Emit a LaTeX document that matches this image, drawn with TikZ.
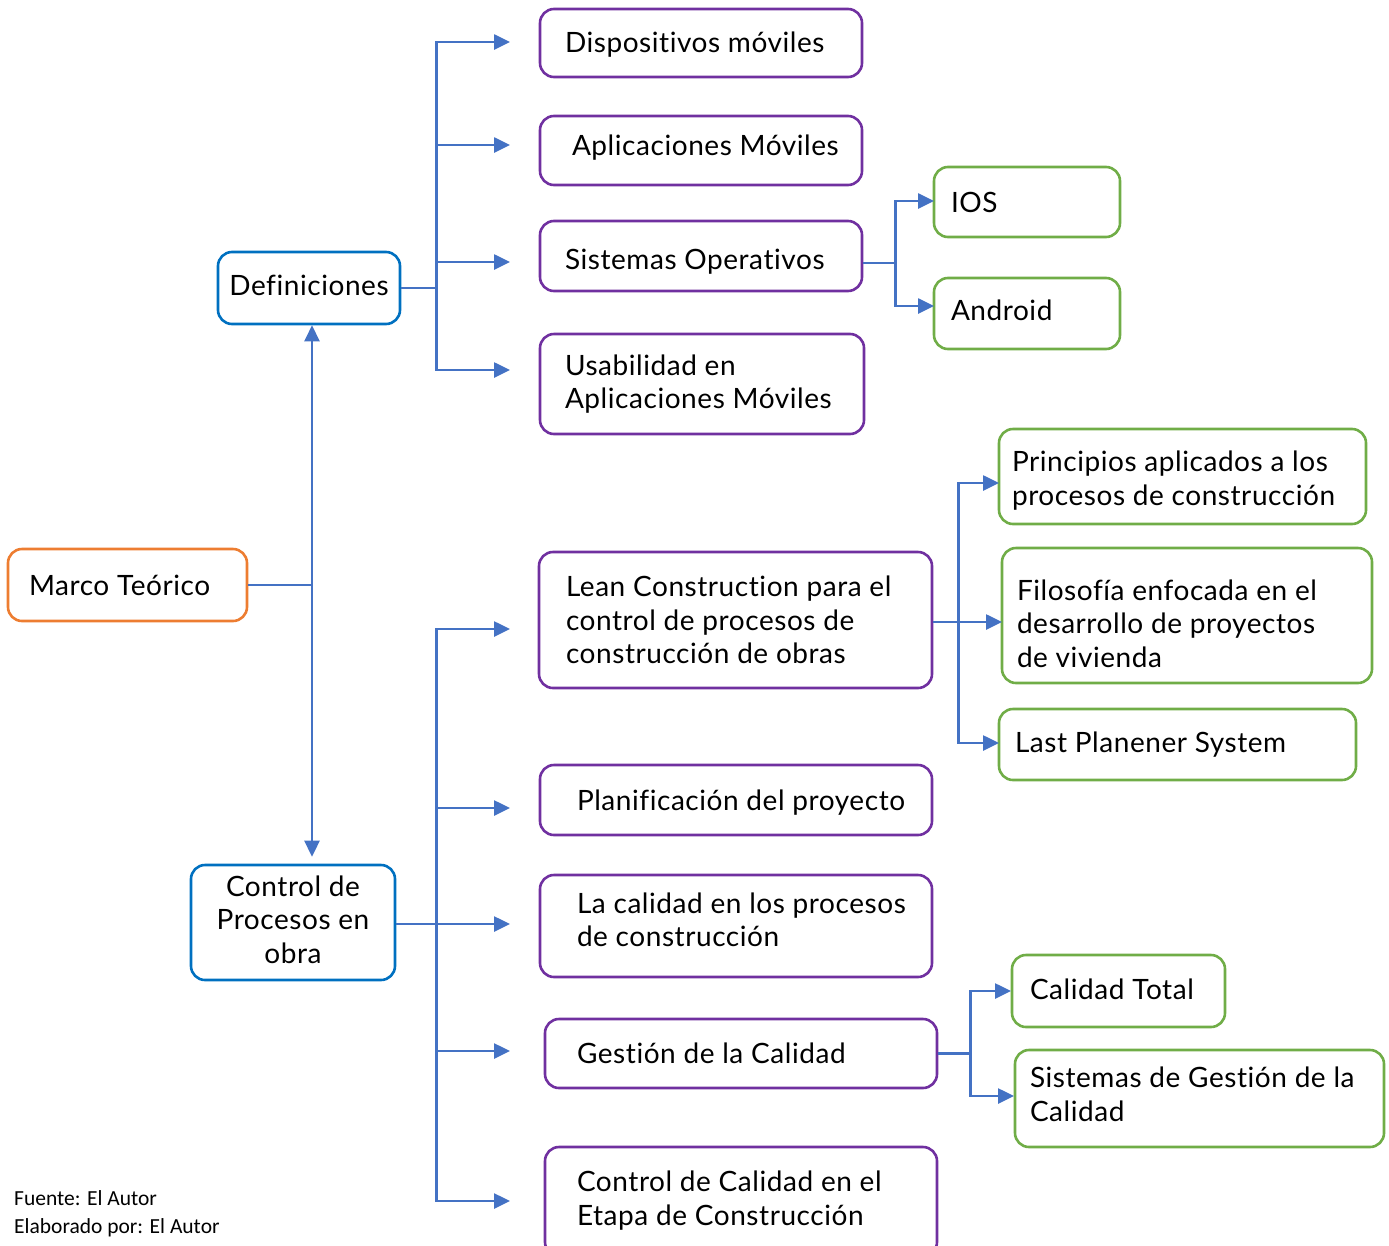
\documentclass[tikz,border=0pt]{standalone}
\usepackage{fontspec}
\setmainfont[LetterSpace=2,Ligatures=NoCommon]{Lato}
\newfontfamily\notefont{Carlito}
\usetikzlibrary{arrows.meta}

\definecolor{linkblue}{HTML}{4472C4}
\definecolor{rootorange}{HTML}{ED7D31}
\definecolor{topicblue}{HTML}{0070C0}
\definecolor{itempurple}{HTML}{7030A0}
\definecolor{leafgreen}{HTML}{70AD47}

% moves a block of text down by #1 (negative: up) inside a centred box
\newcommand\mbshift[2]{%
  \pgfmathsetmacro\mbs{2*abs(#1)}%
  \ifdim #1pt>0pt \vspace*{\mbs pt}\fi
  #2%
  \ifdim #1pt<0pt \par\vspace*{\mbs pt}\fi}

% \mapbox[shift]{name}{style}{x1}{y1}{x2}{y2}{left padding}{text}  -- flush left
\newcommand\mapbox[8][0]{%
  \pgfmathsetmacro\mbw{#6-#4}%
  \pgfmathsetmacro\mbh{#7-#5}%
  \pgfmathsetmacro\mbt{#6-#4-#8}%
  \node[#3, minimum width=\mbw pt, minimum height=\mbh pt, inner sep=0pt]
        (#2) at ({(#4+#6)/2},{(#5+#7)/2})
        {\hspace*{#8pt}\parbox[c]{\mbt pt}{\raggedright
          \hyphenpenalty=10000 \mbshift{#1}{\mbtext}}};}

% \mapboxc[shift]{name}{style}{x1}{y1}{x2}{y2}{text}  -- centred
\newcommand\mapboxc[7][0]{%
  \pgfmathsetmacro\mbw{#6-#4}%
  \pgfmathsetmacro\mbh{#7-#5}%
  \node[#3, minimum width=\mbw pt, minimum height=\mbh pt, inner sep=0pt]
        (#2) at ({(#4+#6)/2},{(#5+#7)/2})
        {\parbox[c]{\mbw pt}{\centering \mbshift{#1}{\mbtext}}};}

\tikzset{
  card/.style={draw, rounded corners=14pt, line width=2.6pt,
               font=\fontsize{28}{33.5}\selectfont, text=black},
  rootcard/.style={card, draw=rootorange},
  topiccard/.style={card, draw=topicblue},
  itemcard/.style={card, draw=itempurple},
  leafcard/.style={card, draw=leafgreen},
  link/.style={draw=linkblue, line width=2.6pt},
  arrowlink/.style={link, -{Triangle[length=16pt,width=15pt]}},
  note/.style={font=\notefont\fontsize{21.5}{28}\selectfont, anchor=base west,
               inner sep=0pt}
}

\begin{document}
\begin{tikzpicture}[x=1pt,y=-1pt]
\useasboundingbox (0,0) rectangle (1389,1245);

% root and main topics
\def\mbtext{Marco Teórico}
\mapbox{marco}{rootcard}{8}{549}{247}{621}{21}
\def\mbtext{Definiciones}
\mapboxc[-3]{def}{topiccard}{218}{252}{400}{324}
\def\mbtext{Control de\\Procesos en\\obra}
\mapboxc[-3]{ctrl}{topiccard}{191}{865}{395}{980}

% definitions
\def\mbtext{Dispositivos móviles}
\mapbox[2]{disp}{itemcard}{540}{9}{862}{77}{25}
\def\mbtext{Aplicaciones Móviles}
\mapbox[-3]{apps}{itemcard}{540}{116}{862}{185}{32}
\def\mbtext{Sistemas Operativos}
\mapbox[6]{sisop}{itemcard}{540}{221}{862}{291}{25}
\def\mbtext{Usabilidad en\\Aplicaciones Móviles}
\mapbox{usab}{itemcard}{540}{334}{864}{434}{25}
\def\mbtext{IOS}
\mapbox{ios}{leafcard}{934}{167}{1120}{237}{17}
\def\mbtext{Android}
\mapbox[-3]{android}{leafcard}{934}{278}{1120}{349}{17}

% process control
\def\mbtext{Lean Construction para el\\control de procesos de\\construcción de obras}
\mapbox{lean}{itemcard}{539}{552}{932}{688}{27}
\def\mbtext{Planificación del proyecto}
\mapbox[3]{plan}{itemcard}{540}{765}{932}{835}{37}
\def\mbtext{La calidad en los procesos\\de construcción}
\mapbox[-6]{calid}{itemcard}{540}{875}{932}{977}{37}
\def\mbtext{Gestión de la Calidad}
\mapbox{gest}{itemcard}{545}{1019}{937}{1088}{32}
\def\mbtext{Control de Calidad en el\\Etapa de Construcción}
\mapbox[-1]{ccal}{itemcard}{545}{1147}{937}{1256}{32}
\def\mbtext{Principios aplicados a los\\procesos de construcción}
\mapbox[4]{princ}{leafcard}{999}{429}{1366}{524}{13}
\def\mbtext{Filosofía enfocada en el\\desarrollo de proyectos\\de vivienda}
\mapbox[8]{filo}{leafcard}{1002}{548}{1372}{683}{15}
\def\mbtext{Last Planener System}
\mapbox{last}{leafcard}{999}{709}{1356}{780}{16}
\def\mbtext{Calidad Total}
\mapbox[-2]{ctot}{leafcard}{1012}{955}{1225}{1027}{18}
\def\mbtext{Sistemas de Gestión de la\\Calidad}
\mapbox[-4]{sgc}{leafcard}{1015}{1050}{1384}{1147}{15}

% arrow tips that stop short of their boxes
\coordinate (t1) at (510,42);
\coordinate (t2) at (510,145);
\coordinate (t3) at (510,262);
\coordinate (t4) at (510,370);
\coordinate (u1) at (510,629);
\coordinate (u2) at (510,808);
\coordinate (u3) at (510,924);
\coordinate (u4) at (510,1051);
\coordinate (u5) at (510,1201);
\coordinate (v1) at (934,201);
\coordinate (v2) at (934,306);
\coordinate (w1) at (999,483);
\coordinate (w2) at (1002,622);
\coordinate (w3) at (999,743);
\coordinate (x1) at (1011,991);
\coordinate (x2) at (1014,1096);

% root to topics
\coordinate (jm) at (312,585);
\draw[link] (marco.east) -- (jm);
\draw[arrowlink] (jm) -- (jm |- def.south);
\draw[arrowlink] (jm) -- ([yshift=7pt]jm |- ctrl.north);

% Definiciones branches
\foreach \t in {t1,t2,t3,t4}
  \draw[arrowlink] (def.east) -- ++(35,0) |- (\t);

% Control de Procesos branches
\foreach \t in {u1,u2,u3,u4,u5}
  \draw[arrowlink] ([yshift=-1.5pt]ctrl.east) -- ++(40,0) |- (\t);

% Sistemas Operativos branches
\foreach \t in {v1,v2}
  \draw[arrowlink] ([yshift=-7pt]sisop.east) -- ++(32,0) |- (\t);

% Lean Construction branches
\foreach \t in {w1,w2,w3}
  \draw[arrowlink] ([yshift=-2pt]lean.east) -- ++(25,0) |- (\t);

% Gestión de la Calidad branches
\foreach \t in {x1,x2}
  \draw[arrowlink] (gest.east) -- ++(32,0) |- (\t);

% source note
\node[note] (src) at (14,1205) {Fuente: El Autor};
\node[note] (auth) at (14,1233) {Elaborado por: El Autor};
\end{tikzpicture}
\end{document}
